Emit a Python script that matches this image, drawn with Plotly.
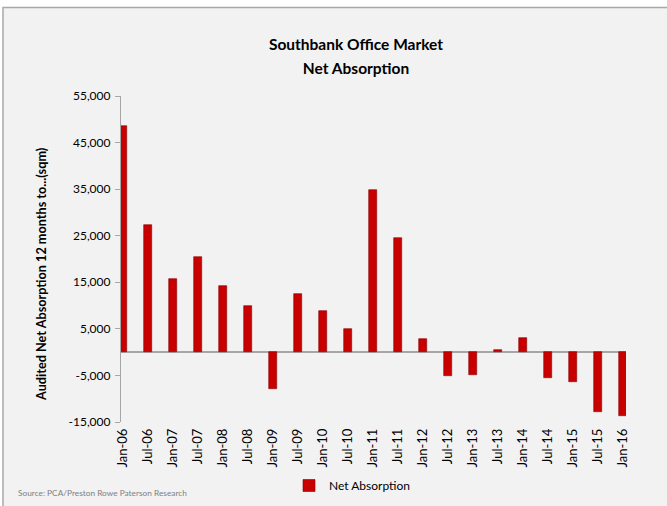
import plotly.graph_objects as go

# Half-yearly periods and audited net absorption (sqm)
periods = ["Jan-06", "Jul-06", "Jan-07", "Jul-07", "Jan-08", "Jul-08", "Jan-09",
           "Jul-09", "Jan-10", "Jul-10", "Jan-11", "Jul-11", "Jan-12", "Jul-12",
           "Jan-13", "Jul-13", "Jan-14", "Jul-14", "Jan-15", "Jul-15", "Jan-16"]
net_absorption = [48600, 27200, 15700, 20500, 14200, 10000, -8000,
                  12500, 8900, 4900, 34900, 24600, 2900, -5200,
                  -5000, 500, 3100, -5500, -6500, -12900, -13700]

y_ticks = [-15000, -5000, 5000, 15000, 25000, 35000, 45000, 55000]
y_tick_text = ["-15,000", "-5,000", "5,000", "15,000", "25,000", "35,000", "45,000", "55,000"]

FONT = "Lato"
AXIS_GREY = "#a6a6a6"

# plot area in pixels: x 121..626, y 96..422
PL, PW, PB, PH = 121, 505, 422, 326


def px_x(v):
    return (v - PL) / PW


def px_y(v):
    return (PB - v) / PH


fig = go.Figure()
fig.add_trace(go.Bar(
    x=list(range(len(periods))),
    y=net_absorption,
    name="Net Absorption",
    width=0.32,
    marker=dict(color="#c80000", line=dict(color="#8a0000", width=0.6)),
))

title_span = "<span style='font-size:15.5px'>{}</span>"
fig.update_layout(
    width=667, height=506,
    margin=dict(l=121, r=41, t=96, b=84, autoexpand=False),
    paper_bgcolor="white",
    plot_bgcolor="rgba(0,0,0,0)",
    font=dict(family=FONT, color="#000000"),
    title=dict(
        text="<b>" + title_span.format("Southbank Office Market") + "<br>"
             + title_span.format("Net Absorption") + "</b>",
        x=356 / 667, xanchor="center", xref="container",
        y=1 - 50 / 506, yanchor="top", yref="container",
        font=dict(family=FONT, size=18.5, color="#000000"),
    ),
    showlegend=True,
    legend=dict(
        orientation="h", x=px_x(352), xanchor="center",
        y=px_y(471), yanchor="top",
        font=dict(family=FONT, size=12), bgcolor="rgba(0,0,0,0)",
        itemwidth=30,
    ),
    bargap=0,
    shapes=[dict(
        type="rect", xref="paper", yref="paper", layer="below",
        x0=px_x(3), x1=px_x(690), y0=px_y(530), y1=px_y(7.5),
        fillcolor="#f2f2f2", line=dict(color="#a8a8a8", width=1.5),
    )],
    annotations=[
        dict(
            text="Source: PCA/Preston Rowe Paterson Research",
            xref="paper", yref="paper", x=px_x(16), y=px_y(493),
            xanchor="left", yanchor="middle", showarrow=False,
            font=dict(family=FONT, size=8.3, color="#7f7f7f"),
        ),
        dict(
            text="<b>Audited Net Absorption 12 months to...(sqm)</b>",
            xref="paper", yref="paper", x=px_x(41), y=px_y(274),
            xanchor="center", yanchor="middle", textangle=-90, showarrow=False,
            font=dict(family=FONT, size=12.7, color="#000000"),
        ),
    ],
)

fig.update_xaxes(
    range=[-0.072, 20.14], automargin=False,
    tickmode="array", tickvals=list(range(len(periods))), ticktext=periods,
    tickangle=-90, tickfont=dict(family=FONT, size=13, color="#000000"),
    ticklabelstandoff=3,
    showgrid=False, zeroline=False, showline=False, ticks="",
)
fig.update_yaxes(
    range=[-15000, 55000], automargin=False,
    tickmode="array", tickvals=y_ticks, ticktext=y_tick_text,
    tickfont=dict(family=FONT, size=12, color="#000000"),
    ticklabelstandoff=2,
    showgrid=False, showline=True, linecolor=AXIS_GREY, linewidth=1.2,
    ticks="outside", ticklen=5, tickcolor=AXIS_GREY,
    zeroline=True, zerolinecolor=AXIS_GREY, zerolinewidth=2,
)

fig.write_html("out.html")
